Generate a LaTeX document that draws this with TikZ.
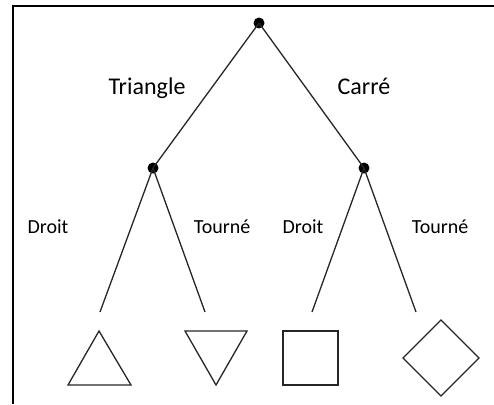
\documentclass[tikz,border=0pt]{standalone}
\usepackage{fontspec}
\setmainfont{Carlito}
\begin{document}
\begin{tikzpicture}[x=1pt, y=-1pt]
        \tikzstyle{blk} = [draw, black!85, line width=1.3pt]
        \tikzstyle{dot} = [circle, fill=black, inner sep=0pt, minimum size=11pt]
        \tikzstyle{big} = [anchor=base, font=\fontsize{24}{28}\selectfont]
        \tikzstyle{small} = [anchor=base, font=\fontsize{20}{24}\selectfont]

        \useasboundingbox (0, 0) rectangle (494, 404);
        \draw[line width=2pt] (12.5, 404) -- (12.5, 6.5) -- (494, 6.5);

        \node[dot] (root) at (259, 23) {};
        \node[dot] (tri) at (153, 168) {};
        \node[dot] (sq) at (364, 168) {};
        \coordinate (tridroit) at (100, 312);
        \coordinate (tritourne) at (205, 312);
        \coordinate (sqdroit) at (312, 312);
        \coordinate (sqtourne) at (416, 312);

        \node[big] (triangle) at (147, 94) {Triangle};
        \node[big] (carre) at (364, 94) {Carré};
        \node[small] (droit1) at (48, 233) {Droit};
        \node[small] (tourne1) at (222, 233) {Tourné};
        \node[small] (droit2) at (303, 233) {Droit};
        \node[small] (tourne2) at (440, 233) {Tourné};

        \path[blk] (root.center) to (tri.center);
        \path[blk] (root.center) to (sq.center);
        \path[blk] (tri.center) to (tridroit);
        \path[blk] (tri.center) to (tritourne);
        \path[blk] (sq.center) to (sqdroit);
        \path[blk] (sq.center) to (sqtourne);

        % the four shapes
        \draw[blk] (68, 385) -- (99, 331) -- (131, 385) -- cycle;
        \draw[blk] (185, 331) -- (247, 331) -- (216, 385) -- cycle;
        \draw[blk] (283, 331) rectangle (338, 385);
        \draw[blk] (441, 320) -- (479, 358) -- (441, 396) -- (403, 358) -- cycle;
    \end{tikzpicture}
\end{document}
